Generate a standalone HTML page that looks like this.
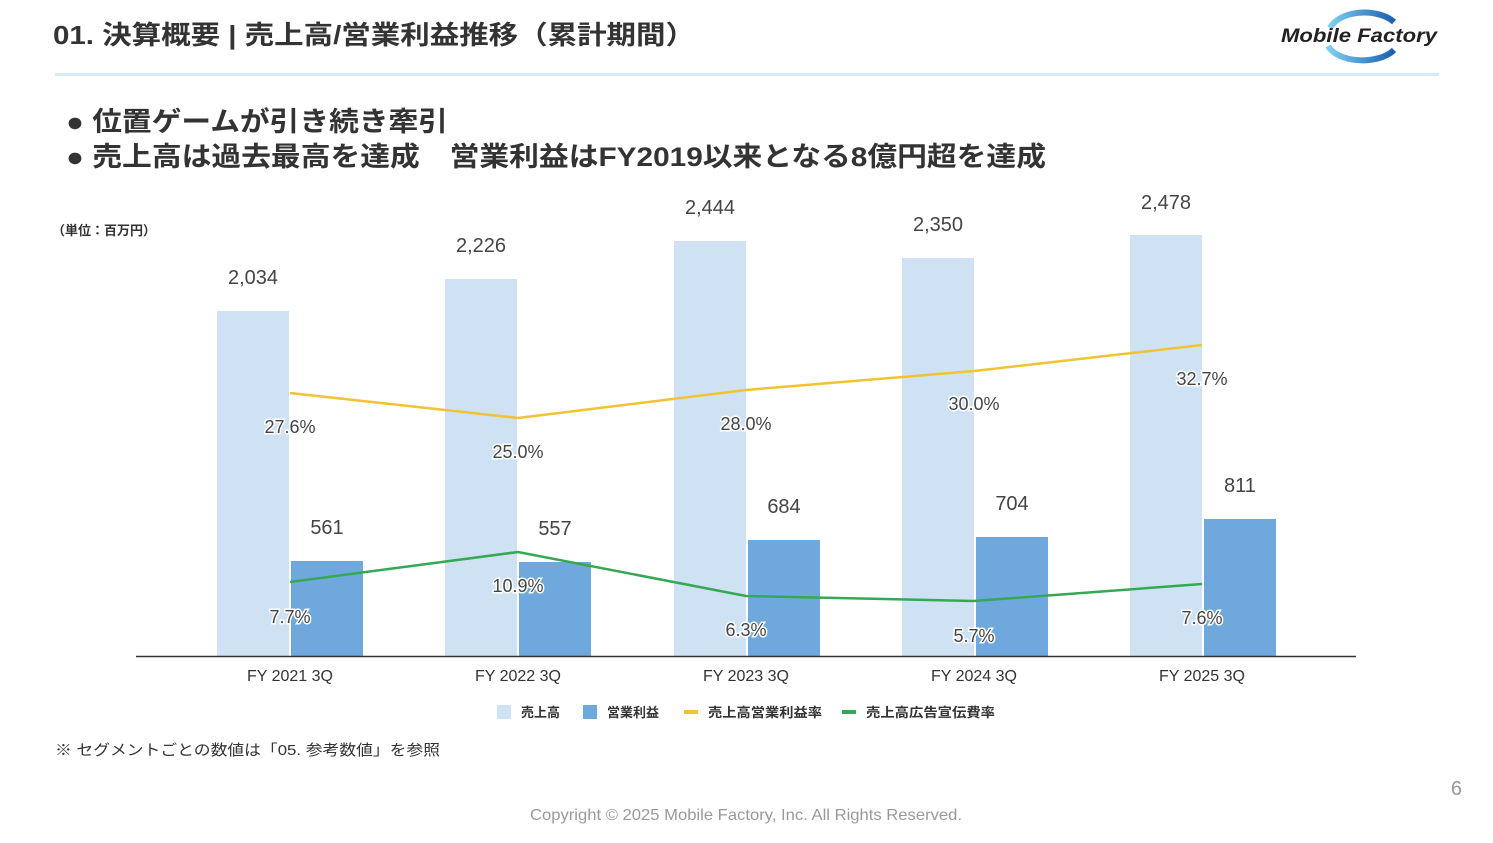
<!DOCTYPE html>
<html><head><meta charset="utf-8"><style>
body{margin:0;width:1493px;height:838px;background:#fff;overflow:hidden;font-family:"Liberation Sans","Noto Sans CJK JP",sans-serif}
</style></head><body>
<svg width="1493" height="838" xmlns="http://www.w3.org/2000/svg" font-family="Liberation Sans, Noto Sans CJK JP, sans-serif">
<defs><linearGradient id="g" x1="0" x2="1"><stop offset="0" stop-color="#7fd0f0"/><stop offset="1" stop-color="#1a5fb0"/></linearGradient></defs>
<text x="53" y="44" font-size="26" font-weight="bold" fill="#333" textLength="642" lengthAdjust="spacingAndGlyphs">01. 決算概要 | 売上高/営業利益推移（累計期間）</text>
<rect x="55" y="73" width="1384" height="3" fill="#d6ecf3"/>
<path d="M1330 28 A36 22 0 0 1 1394 22" stroke="url(#g)" stroke-width="6" fill="none"/>
<path d="M1328 46 A36 20 0 0 0 1394 50" stroke="url(#g)" stroke-width="6" fill="none"/>
<text x="1281" y="42" font-size="19" font-weight="bold" font-style="italic" fill="#222" textLength="156" lengthAdjust="spacingAndGlyphs">Mobile Factory</text>
<text x="66" y="131" font-size="27" font-weight="bold" fill="#333" textLength="382" lengthAdjust="spacingAndGlyphs">● 位置ゲームが引き続き牽引</text>
<text x="66" y="166" font-size="27" font-weight="bold" fill="#333" textLength="980" lengthAdjust="spacingAndGlyphs">● 売上高は過去最高を達成　営業利益はFY2019以来となる8億円超を達成</text>
<text x="52" y="235" font-size="13" fill="#333" font-weight="bold">（単位：百万円）</text>
<g fill="#cfe2f3">
<rect x="217" y="311" width="72" height="345"/><rect x="445" y="279" width="72" height="377"/><rect x="674" y="241" width="72" height="415"/><rect x="902" y="258" width="72" height="398"/><rect x="1130" y="235" width="72" height="421"/></g>
<g fill="#6fa8dc">
<rect x="291" y="561" width="72" height="95"/><rect x="519" y="562" width="72" height="94"/><rect x="748" y="540" width="72" height="116"/><rect x="976" y="537" width="72" height="119"/><rect x="1204" y="519" width="72" height="137"/></g>
<line x1="136" y1="656.5" x2="1356" y2="656.5" stroke="#333" stroke-width="1.5"/>
<polyline points="290,393 518,418 746,390 974,371 1202,345" fill="none" stroke="#f1c232" stroke-width="2.5"/>
<polyline points="290,582 518,552 746,596 974,601 1202,584" fill="none" stroke="#34a853" stroke-width="2.5"/>
<g font-size="20" fill="#444" text-anchor="middle">
<text x="253" y="284">2,034</text><text x="481" y="252">2,226</text><text x="710" y="214">2,444</text><text x="938" y="231">2,350</text><text x="1166" y="209">2,478</text>
<text x="327" y="534">561</text><text x="555" y="535">557</text><text x="784" y="513">684</text><text x="1012" y="510">704</text><text x="1240" y="492">811</text>
</g>
<g font-size="18" fill="#444" text-anchor="middle" stroke="#fff" stroke-width="3" paint-order="stroke">
<text x="290" y="433">27.6%</text><text x="518" y="458">25.0%</text><text x="746" y="430">28.0%</text><text x="974" y="410">30.0%</text><text x="1202" y="385">32.7%</text>
<text x="290" y="623">7.7%</text><text x="518" y="592">10.9%</text><text x="746" y="636">6.3%</text><text x="974" y="642">5.7%</text><text x="1202" y="624">7.6%</text>
</g>
<g font-size="16" fill="#333" text-anchor="middle">
<text x="290" y="681">FY 2021 3Q</text><text x="518" y="681">FY 2022 3Q</text><text x="746" y="681">FY 2023 3Q</text><text x="974" y="681">FY 2024 3Q</text><text x="1202" y="681">FY 2025 3Q</text>
</g>
<g font-size="13" fill="#333" font-weight="bold">
<rect x="497" y="705" width="14" height="14" fill="#cfe2f3"/><text x="521" y="717">売上高</text>
<rect x="583" y="705" width="14" height="14" fill="#6fa8dc"/><text x="607" y="717">営業利益</text>
<rect x="684" y="710" width="14" height="4" fill="#f1c232"/><text x="708" y="717" textLength="114" lengthAdjust="spacingAndGlyphs">売上高営業利益率</text>
<rect x="842" y="710" width="14" height="4" fill="#34a853"/><text x="866" y="717" textLength="129" lengthAdjust="spacingAndGlyphs">売上高広告宣伝費率</text>
</g>
<text x="55" y="755" font-size="15" fill="#333" textLength="385" lengthAdjust="spacingAndGlyphs">※ セグメントごとの数値は「05. 参考数値」を参照</text>
<text x="1462" y="795" font-size="20" fill="#999" text-anchor="end">6</text>
<text x="530" y="820" font-size="16" fill="#999" textLength="432" lengthAdjust="spacingAndGlyphs">Copyright © 2025 Mobile Factory, Inc. All Rights Reserved.</text>
</svg>
</body></html>
